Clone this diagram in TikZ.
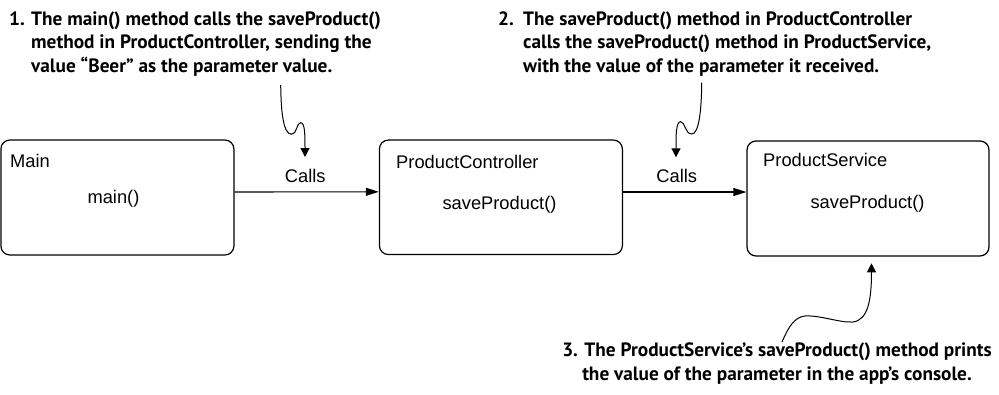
\documentclass[tikz,border=0pt]{standalone}
\usepackage{fontspec}
\setmainfont{Liberation Sans}
\newfontfamily\annfont{PT Sans}
\usetikzlibrary{arrows.meta}
\tikzset{
  box/.style={draw, line width=1.2pt, rounded corners=9pt, inner sep=0pt},
  boxtxt/.style={inner sep=0pt, font=\fontsize{18.3}{22}\selectfont},
  ann/.style={inner sep=0pt, font=\annfont\bfseries\fontsize{19.3}{23.5}\selectfont},
  conn/.style={line width=1.1pt, -{Triangle[length=13pt,width=8pt]}},
  squig/.style={line width=1pt, -{Triangle[length=9pt,width=9pt]}}
}
\begin{document}
\begin{tikzpicture}[x=1pt,y=-1pt]
\useasboundingbox (0,0) rectangle (999,394);
% boxes
\node[box, minimum width=233pt, minimum height=115pt] (main) at (117.4,197.5) {};
\node[box, minimum width=243pt, minimum height=114.5pt] (pc) at (500.9,197.3) {};
\node[box, minimum width=242pt, minimum height=115pt] (ps) at (868,198.5) {};
% box texts
\node[boxtxt, anchor=base west] (mainlbl) at (10,167) {Main};
\node[boxtxt, anchor=base] (mainm) at (113.5,203) {main()};
\node[boxtxt, anchor=base west] (pclbl) at (396,168) {ProductController};
\node[boxtxt, anchor=base] (pcm) at (499.5,209) {saveProduct()};
\node[boxtxt, anchor=base west] (pslbl) at (763,166.5) {ProductService};
\node[boxtxt, anchor=base] (psm) at (867.5,208.5) {saveProduct()};
% connectors
\draw[conn] ([yshift=5.5pt]main.east) -- ([yshift=5.5pt]pc.west);
\draw[conn] ([yshift=5.3pt]pc.east) -- ([yshift=6.5pt]ps.west);
\node[boxtxt, anchor=base] (calls1) at (305.3,182.5) {Calls};
\node[boxtxt, anchor=base] (calls2) at (676.7,182.5) {Calls};
% annotations
\node[ann, anchor=base west, align=left] (ann1) at (9,72)
  {\makebox[22pt][l]{1.}The main() method calls the saveProduct()\\
   \hspace*{22pt}method in ProductController, sending the\\
   \hspace*{22pt}value “Beer” as the parameter value.};
\node[ann, anchor=base west, align=left] (ann2) at (498,72)
  {\makebox[25pt][l]{2.}The saveProduct() method in ProductController\\
   \hspace*{25pt}calls the saveProduct() method in ProductService,\\
   \hspace*{25pt}with the value of the parameter it received.};
\node[ann, anchor=base, align=center] (ann3) at (777,380)
  {3. The ProductService’s saveProduct() method prints\\
   the value of the parameter in the app’s console.};
% squiggle arrows
\coordinate (s1a) at (280.7,85);
\coordinate (s1b) at (305,157);
\draw[squig] (s1a) .. controls (281,110) and (283,134.3) .. (291.5,134.3)
  .. controls (297,134.3) and (296.5,122.7) .. (300.7,122.7)
  .. controls (305,122.7) and (305,135) .. (s1b);
\coordinate (s2a) at (701.7,82.7);
\coordinate (s2b) at (676,157.3);
\draw[squig] (s2a) .. controls (701.5,110) and (699,134) .. (691.7,134)
  .. controls (685,134) and (685,121.7) .. (680.7,121.7)
  .. controls (676,121.7) and (676,135) .. (s2b);
\coordinate (s3a) at (782,342);
\coordinate (s3b) at (871.5,263.3);
\draw[squig] (s3a) .. controls (788,328) and (794,317) .. (805,316)
  .. controls (820,315) and (840,323) .. (853,322)
  .. controls (868,320) and (871.5,300) .. (s3b);
\end{tikzpicture}
\end{document}
